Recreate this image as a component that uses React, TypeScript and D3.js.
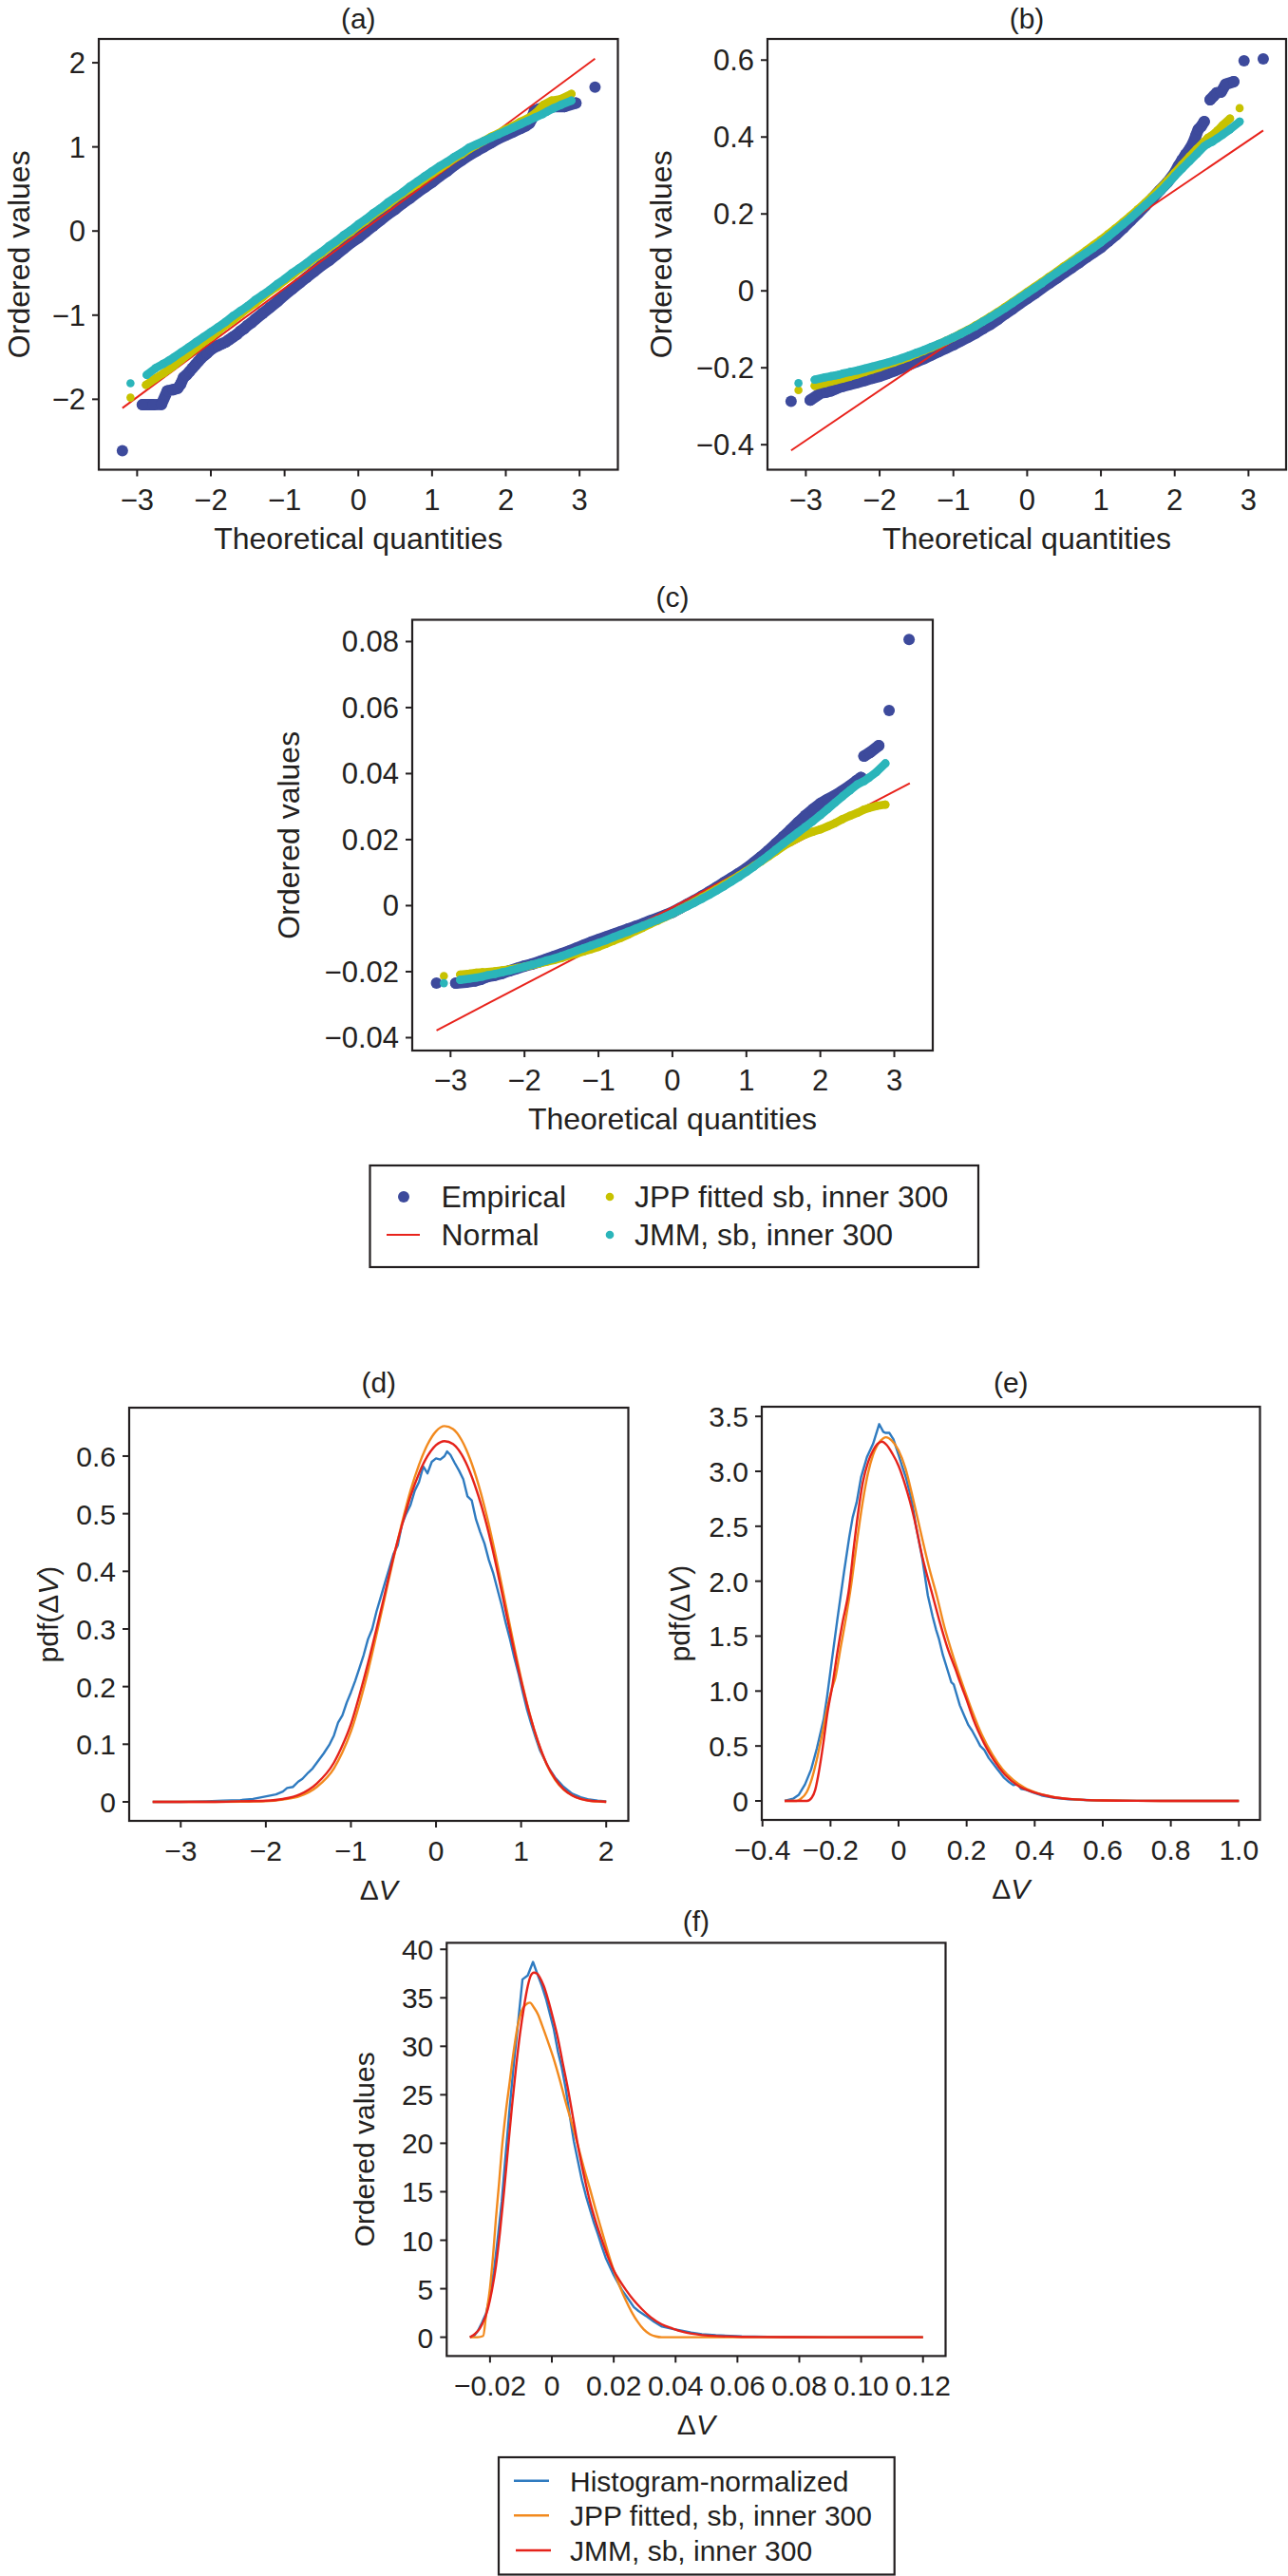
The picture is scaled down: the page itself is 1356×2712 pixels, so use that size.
import React from 'react';
import * as d3 from 'd3';

const FONT = '"Liberation Sans", Arial, Helvetica, sans-serif';
const INK = '#231f20';

const C_EMP = '#3d4a9c';
const C_JPP = '#c7c200';
const C_JMM = '#2bb5ba';
const C_NORM = '#e8231c';
const C_HIST = '#2f7bc0';
const C_JPPL = '#f28a1e';
const C_JMML = '#e5231b';

// ---------- Panel (a) ----------
const normalA: number[][] = [[-3.2, -2.105], [3.21, 2.048]];
const empiricalA: number[][] = [
  [-3.2, -2.61], [-2.93, -2.065], [-2.78, -2.065], [-2.67, -2.06], [-2.59, -1.9], [-2.51, -1.885], [-2.45, -1.87],
  [-2.41, -1.82], [-2.37, -1.74], [-2.33, -1.71], [-2.29, -1.67], [-2.25, -1.63], [-2.21, -1.59], [-2.17, -1.55],
  [-2.13, -1.51], [-2.09, -1.48], [-2.05, -1.45], [-2.0, -1.41], [-1.95, -1.38], [-1.9, -1.36], [-1.85, -1.34],
  [-1.8, -1.32], [-1.75, -1.29], [-1.7, -1.26], [-1.65, -1.23], [-1.6, -1.19], [-1.55, -1.16], [-1.5, -1.12],
  [-1.45, -1.09], [-1.4, -1.05], [-1.3, -0.98], [-1.2, -0.91], [-1.1, -0.84], [-1.0, -0.76], [-0.9, -0.69],
  [-0.8, -0.62], [-0.7, -0.55], [-0.6, -0.48], [-0.5, -0.41], [-0.4, -0.35], [-0.3, -0.28], [-0.2, -0.21],
  [-0.1, -0.14], [0, -0.08], [0.1, -0.01], [0.2, 0.06], [0.3, 0.13], [0.4, 0.2], [0.5, 0.26], [0.6, 0.33],
  [0.7, 0.39], [0.8, 0.46], [0.9, 0.52], [1.0, 0.58], [1.1, 0.65], [1.2, 0.71], [1.3, 0.78], [1.4, 0.84],
  [1.5, 0.9], [1.6, 0.95], [1.7, 1.0], [1.8, 1.05], [1.9, 1.1], [2.0, 1.14], [2.1, 1.18], [2.2, 1.22],
  [2.27, 1.25], [2.32, 1.28], [2.35, 1.33], [2.37, 1.38], [2.39, 1.43], [2.45, 1.45], [2.52, 1.46],
  [2.65, 1.48], [2.8, 1.48], [2.95, 1.52], [3.21, 1.71],
];
const jppA: number[][] = [
  [-3.09, -1.98], [-2.88, -1.83], [-2.75, -1.75], [-2.64, -1.69], [-2.57, -1.645], [-2.5, -1.6], [-2.4, -1.53],
  [-2.3, -1.46], [-2.2, -1.39], [-2.1, -1.32], [-2.0, -1.26], [-1.9, -1.19], [-1.8, -1.12], [-1.7, -1.06],
  [-1.6, -0.99], [-1.5, -0.92], [-1.4, -0.86], [-1.3, -0.79], [-1.2, -0.72], [-1.1, -0.66], [-1.0, -0.59],
  [-0.9, -0.53], [-0.8, -0.46], [-0.7, -0.4], [-0.6, -0.33], [-0.5, -0.27], [-0.4, -0.2], [-0.3, -0.14],
  [-0.2, -0.07], [-0.1, -0.01], [0, 0.06], [0.1, 0.12], [0.2, 0.19], [0.3, 0.25], [0.4, 0.31], [0.5, 0.38],
  [0.6, 0.44], [0.7, 0.5], [0.8, 0.56], [0.9, 0.62], [1.0, 0.68], [1.1, 0.74], [1.2, 0.8], [1.3, 0.86],
  [1.4, 0.91], [1.5, 0.97], [1.6, 1.02], [1.7, 1.07], [1.8, 1.12], [1.9, 1.16], [2.0, 1.21], [2.1, 1.25],
  [2.2, 1.3], [2.3, 1.34], [2.4, 1.4], [2.45, 1.44], [2.51, 1.5], [2.62, 1.55], [2.75, 1.57], [2.89, 1.63],
];
const jmmA: number[][] = [
  [-3.09, -1.81], [-2.87, -1.71], [-2.75, -1.63], [-2.65, -1.58], [-2.57, -1.54], [-2.5, -1.5], [-2.4, -1.44],
  [-2.3, -1.38], [-2.2, -1.32], [-2.1, -1.26], [-2.0, -1.2], [-1.9, -1.14], [-1.8, -1.08], [-1.7, -1.01],
  [-1.6, -0.95], [-1.5, -0.89], [-1.4, -0.82], [-1.3, -0.76], [-1.2, -0.7], [-1.1, -0.63], [-1.0, -0.57],
  [-0.9, -0.5], [-0.8, -0.44], [-0.7, -0.38], [-0.6, -0.31], [-0.5, -0.25], [-0.4, -0.18], [-0.3, -0.12],
  [-0.2, -0.05], [-0.1, 0.01], [0, 0.08], [0.1, 0.14], [0.2, 0.21], [0.3, 0.27], [0.4, 0.34], [0.5, 0.4],
  [0.6, 0.46], [0.7, 0.53], [0.8, 0.59], [0.9, 0.65], [1.0, 0.71], [1.1, 0.77], [1.2, 0.82], [1.3, 0.88],
  [1.4, 0.93], [1.5, 0.99], [1.6, 1.03], [1.7, 1.07], [1.8, 1.11], [1.9, 1.15], [2.0, 1.19], [2.1, 1.23],
  [2.2, 1.27], [2.3, 1.31], [2.4, 1.35], [2.5, 1.39], [2.56, 1.42], [2.65, 1.46], [2.75, 1.5], [2.89, 1.55],
];

// ---------- Panel (b) ----------
const normalB: number[][] = [[-3.2, -0.415], [3.2, 0.417]];
const empiricalB: number[][] = [
  [-3.2, -0.287], [-2.94, -0.284], [-2.79, -0.265], [-2.72, -0.263], [-2.66, -0.26], [-2.6, -0.255], [-2.54, -0.25],
  [-2.5, -0.248], [-2.4, -0.243], [-2.3, -0.238], [-2.2, -0.233], [-2.1, -0.227], [-2.0, -0.222], [-1.9, -0.215],
  [-1.8, -0.208], [-1.7, -0.2], [-1.6, -0.192], [-1.5, -0.184], [-1.4, -0.176], [-1.3, -0.167], [-1.2, -0.158],
  [-1.1, -0.149], [-1.0, -0.14], [-0.9, -0.13], [-0.8, -0.12], [-0.7, -0.11], [-0.6, -0.098], [-0.5, -0.087],
  [-0.4, -0.074], [-0.3, -0.06], [-0.2, -0.047], [-0.1, -0.033], [0, -0.02], [0.1, -0.007], [0.2, 0.007],
  [0.3, 0.02], [0.4, 0.033], [0.5, 0.047], [0.6, 0.06], [0.7, 0.073], [0.8, 0.087], [0.9, 0.1], [1.0, 0.113],
  [1.1, 0.129], [1.2, 0.145], [1.3, 0.163], [1.4, 0.182], [1.5, 0.201], [1.6, 0.221], [1.7, 0.241], [1.8, 0.262],
  [1.9, 0.282], [2.0, 0.307], [2.05, 0.325], [2.1, 0.34], [2.15, 0.355], [2.2, 0.368], [2.25, 0.385],
  [2.29, 0.405], [2.32, 0.42], [2.36, 0.428], [2.4, 0.44], [2.48, 0.497], [2.53, 0.507], [2.57, 0.515],
  [2.63, 0.517], [2.69, 0.537], [2.8, 0.544], [2.94, 0.598], [3.2, 0.603],
];
const jppB: number[][] = [
  [-3.1, -0.258], [-2.88, -0.247], [-2.74, -0.24], [-2.66, -0.236], [-2.6, -0.233], [-2.5, -0.228], [-2.4, -0.223],
  [-2.3, -0.217], [-2.2, -0.211], [-2.1, -0.205], [-2.0, -0.199], [-1.9, -0.192], [-1.8, -0.186], [-1.7, -0.179],
  [-1.6, -0.172], [-1.5, -0.164], [-1.4, -0.156], [-1.3, -0.148], [-1.2, -0.139], [-1.1, -0.13], [-1.0, -0.121],
  [-0.9, -0.111], [-0.8, -0.101], [-0.7, -0.09], [-0.6, -0.079], [-0.5, -0.067], [-0.4, -0.055], [-0.3, -0.042],
  [-0.2, -0.029], [-0.1, -0.016], [0, -0.003], [0.1, 0.01], [0.2, 0.023], [0.3, 0.037], [0.4, 0.05], [0.5, 0.064],
  [0.6, 0.077], [0.7, 0.091], [0.8, 0.105], [0.9, 0.119], [1.0, 0.133], [1.1, 0.148], [1.2, 0.163], [1.3, 0.179],
  [1.4, 0.195], [1.5, 0.212], [1.6, 0.229], [1.7, 0.247], [1.8, 0.266], [1.9, 0.286], [2.0, 0.307], [2.1, 0.328],
  [2.2, 0.349], [2.3, 0.369], [2.4, 0.388], [2.45, 0.398], [2.51, 0.405], [2.58, 0.417], [2.65, 0.431],
  [2.75, 0.448], [2.88, 0.475],
];
const jmmB: number[][] = [
  [-3.1, -0.24], [-2.88, -0.231], [-2.74, -0.225], [-2.66, -0.222], [-2.6, -0.22], [-2.55, -0.218], [-2.5, -0.215],
  [-2.4, -0.211], [-2.3, -0.207], [-2.2, -0.202], [-2.1, -0.197], [-2.0, -0.192], [-1.9, -0.187], [-1.8, -0.181],
  [-1.7, -0.175], [-1.6, -0.168], [-1.5, -0.161], [-1.4, -0.154], [-1.3, -0.146], [-1.2, -0.138], [-1.1, -0.13],
  [-1.0, -0.121], [-0.9, -0.112], [-0.8, -0.102], [-0.7, -0.092], [-0.6, -0.08], [-0.5, -0.069], [-0.4, -0.057],
  [-0.3, -0.045], [-0.2, -0.032], [-0.1, -0.019], [0, -0.006], [0.1, 0.007], [0.2, 0.02], [0.3, 0.034],
  [0.4, 0.047], [0.5, 0.06], [0.6, 0.073], [0.7, 0.086], [0.8, 0.099], [0.9, 0.112], [1.0, 0.126], [1.1, 0.141],
  [1.2, 0.157], [1.3, 0.173], [1.4, 0.189], [1.5, 0.206], [1.6, 0.223], [1.7, 0.24], [1.8, 0.257], [1.9, 0.277],
  [2.0, 0.298], [2.1, 0.318], [2.2, 0.337], [2.3, 0.356], [2.4, 0.376], [2.45, 0.382], [2.51, 0.388],
  [2.58, 0.397], [2.65, 0.406], [2.75, 0.42], [2.88, 0.44],
];

// ---------- Panel (c) ----------
const normalC: number[][] = [[-3.19, -0.0378], [3.21, 0.0371]];
const empiricalC: number[][] = [
  [-3.19, -0.0235], [-2.93, -0.0235], [-2.79, -0.0232], [-2.67, -0.0228], [-2.59, -0.0223], [-2.5, -0.0215],
  [-2.4, -0.0211], [-2.3, -0.0205], [-2.2, -0.0197], [-2.1, -0.019], [-2.0, -0.0183], [-1.9, -0.0177],
  [-1.8, -0.017], [-1.7, -0.0162], [-1.6, -0.0154], [-1.5, -0.0146], [-1.4, -0.0138], [-1.3, -0.0129],
  [-1.2, -0.012], [-1.1, -0.0111], [-1.0, -0.0103], [-0.9, -0.0095], [-0.8, -0.0087], [-0.7, -0.0079],
  [-0.6, -0.0071], [-0.5, -0.0063], [-0.4, -0.0055], [-0.3, -0.0046], [-0.2, -0.0038], [-0.1, -0.0029],
  [0, -0.002], [0.1, -0.0008], [0.2, 0.0004], [0.3, 0.0016], [0.4, 0.0029], [0.5, 0.0042], [0.6, 0.0056],
  [0.7, 0.007], [0.8, 0.0084], [0.9, 0.0098], [1.0, 0.0113], [1.1, 0.013], [1.2, 0.0148], [1.3, 0.0167],
  [1.4, 0.0188], [1.5, 0.0209], [1.6, 0.023], [1.7, 0.0252], [1.8, 0.0273], [1.9, 0.0292], [2.0, 0.0309],
  [2.1, 0.0322], [2.2, 0.0334], [2.3, 0.0348], [2.4, 0.0363], [2.5, 0.038], [2.55, 0.0388], [2.59, 0.0453],
  [2.67, 0.0464], [2.79, 0.0485], [2.93, 0.0591], [3.2, 0.0806],
];
const jppC: number[][] = [
  [-3.09, -0.0213], [-2.87, -0.0209], [-2.74, -0.0206], [-2.65, -0.0203], [-2.57, -0.0202], [-2.5, -0.0201],
  [-2.4, -0.0199], [-2.3, -0.0196], [-2.2, -0.0193], [-2.1, -0.0189], [-2.0, -0.0185], [-1.9, -0.018],
  [-1.8, -0.0175], [-1.7, -0.017], [-1.6, -0.0165], [-1.5, -0.0159], [-1.4, -0.0152], [-1.3, -0.0146],
  [-1.2, -0.0139], [-1.1, -0.0132], [-1.0, -0.0125], [-0.9, -0.0116], [-0.8, -0.0107], [-0.7, -0.0098],
  [-0.6, -0.0088], [-0.5, -0.0077], [-0.4, -0.0067], [-0.3, -0.0056], [-0.2, -0.0046], [-0.1, -0.0035],
  [0, -0.0024], [0.1, -0.0012], [0.2, 0.0], [0.3, 0.0012], [0.4, 0.0025], [0.5, 0.0037], [0.6, 0.005],
  [0.7, 0.0064], [0.8, 0.0077], [0.9, 0.0091], [1.0, 0.0105], [1.1, 0.012], [1.2, 0.0134], [1.3, 0.0149],
  [1.4, 0.0164], [1.5, 0.018], [1.6, 0.0193], [1.7, 0.0205], [1.8, 0.0216], [1.9, 0.0224], [2.0, 0.0231],
  [2.1, 0.024], [2.2, 0.025], [2.3, 0.0262], [2.4, 0.0272], [2.5, 0.0281], [2.59, 0.0291], [2.66, 0.0296],
  [2.76, 0.0302], [2.88, 0.0306],
];
const jmmC: number[][] = [
  [-3.09, -0.0235], [-2.87, -0.0225], [-2.74, -0.0221], [-2.65, -0.0218], [-2.57, -0.0215], [-2.5, -0.0211],
  [-2.4, -0.0207], [-2.3, -0.0202], [-2.2, -0.0197], [-2.1, -0.0191], [-2.0, -0.0185], [-1.9, -0.0179],
  [-1.8, -0.0173], [-1.7, -0.0166], [-1.6, -0.016], [-1.5, -0.0153], [-1.4, -0.0145], [-1.3, -0.0137],
  [-1.2, -0.0129], [-1.1, -0.0121], [-1.0, -0.0113], [-0.9, -0.0105], [-0.8, -0.0096], [-0.7, -0.0087],
  [-0.6, -0.0079], [-0.5, -0.007], [-0.4, -0.0061], [-0.3, -0.0052], [-0.2, -0.0043], [-0.1, -0.0034],
  [0, -0.0024], [0.1, -0.0013], [0.2, -0.0002], [0.3, 0.0009], [0.4, 0.0021], [0.5, 0.0033], [0.6, 0.0046],
  [0.7, 0.0059], [0.8, 0.0073], [0.9, 0.0087], [1.0, 0.0102], [1.1, 0.0118], [1.2, 0.0135], [1.3, 0.0152],
  [1.4, 0.017], [1.5, 0.0188], [1.6, 0.0205], [1.7, 0.0222], [1.8, 0.0239], [1.9, 0.0256], [2.0, 0.0274],
  [2.1, 0.0293], [2.2, 0.0312], [2.3, 0.0331], [2.4, 0.0349], [2.5, 0.0367], [2.59, 0.0377], [2.66, 0.0388],
  [2.76, 0.0405], [2.88, 0.0431],
];

// ---------- Panel (d) ----------
const histD: number[][] = [
  [-3.33, 0], [-3.0, 0], [-2.7, 0.001], [-2.5, 0.002], [-2.3, 0.003], [-2.15, 0.005], [-2.05, 0.008], [-1.95, 0.011],
  [-1.88, 0.013], [-1.8, 0.018], [-1.75, 0.024], [-1.68, 0.026], [-1.62, 0.035], [-1.57, 0.04], [-1.5, 0.051],
  [-1.45, 0.058], [-1.38, 0.072], [-1.32, 0.084], [-1.25, 0.1], [-1.2, 0.115], [-1.15, 0.138], [-1.1, 0.15],
  [-1.05, 0.172], [-1.0, 0.19], [-0.95, 0.21], [-0.9, 0.232], [-0.85, 0.255], [-0.8, 0.282], [-0.75, 0.3],
  [-0.7, 0.33], [-0.65, 0.355], [-0.6, 0.38], [-0.55, 0.405], [-0.5, 0.43], [-0.45, 0.445], [-0.4, 0.482],
  [-0.35, 0.5], [-0.3, 0.515], [-0.25, 0.54], [-0.2, 0.555], [-0.15, 0.582], [-0.1, 0.57], [-0.05, 0.59],
  [0.0, 0.596], [0.05, 0.594], [0.1, 0.6], [0.13, 0.608], [0.17, 0.602], [0.22, 0.588], [0.27, 0.575],
  [0.32, 0.56], [0.37, 0.53], [0.42, 0.523], [0.47, 0.49], [0.52, 0.468], [0.57, 0.448], [0.62, 0.42],
  [0.67, 0.398], [0.72, 0.37], [0.77, 0.342], [0.82, 0.31], [0.87, 0.282], [0.92, 0.25], [0.97, 0.222],
  [1.02, 0.19], [1.07, 0.16], [1.12, 0.135], [1.17, 0.112], [1.22, 0.09], [1.27, 0.075], [1.32, 0.06],
  [1.4, 0.042], [1.5, 0.026], [1.6, 0.014], [1.7, 0.008], [1.8, 0.004], [1.9, 0.002], [2.0, 0.001],
];
const jppD: number[][] = [
  [-3.33, 0], [-2.6, 0], [-2.2, 0.0005], [-2.0, 0.001], [-1.8, 0.004], [-1.6, 0.01], [-1.4, 0.026], [-1.2, 0.058],
  [-1.1, 0.086], [-1.0, 0.122], [-0.9, 0.17], [-0.8, 0.226], [-0.7, 0.29], [-0.6, 0.356], [-0.5, 0.422],
  [-0.4, 0.484], [-0.3, 0.54], [-0.2, 0.585], [-0.1, 0.62], [0, 0.643], [0.1, 0.652], [0.2, 0.647], [0.3, 0.628],
  [0.4, 0.595], [0.5, 0.55], [0.6, 0.494], [0.7, 0.428], [0.8, 0.356], [0.9, 0.283], [1.0, 0.214], [1.1, 0.153],
  [1.2, 0.103], [1.3, 0.065], [1.4, 0.038], [1.5, 0.021], [1.6, 0.011], [1.7, 0.005], [1.8, 0.002], [2.0, 0.0],
];
const jmmD: number[][] = [
  [-3.33, 0], [-2.6, 0], [-2.3, 0.001], [-2.0, 0.002], [-1.8, 0.005], [-1.6, 0.013], [-1.4, 0.032], [-1.2, 0.068],
  [-1.1, 0.098], [-1.0, 0.135], [-0.9, 0.185], [-0.8, 0.24], [-0.7, 0.3], [-0.6, 0.362], [-0.5, 0.425],
  [-0.4, 0.48], [-0.3, 0.53], [-0.2, 0.57], [-0.1, 0.6], [0, 0.619], [0.1, 0.626], [0.2, 0.621], [0.3, 0.603],
  [0.4, 0.572], [0.5, 0.53], [0.6, 0.478], [0.7, 0.415], [0.8, 0.345], [0.9, 0.275], [1.0, 0.21], [1.1, 0.152],
  [1.2, 0.104], [1.3, 0.066], [1.4, 0.04], [1.5, 0.022], [1.6, 0.011], [1.7, 0.005], [1.8, 0.002], [1.9, 0.001],
  [2.0, 0.0],
];

// ---------- Panel (e) ----------
const histE: number[][] = [
  [-0.335, 0], [-0.31, 0.02], [-0.293, 0.057], [-0.275, 0.15], [-0.257, 0.286], [-0.24, 0.48], [-0.22, 0.745],
  [-0.21, 0.95], [-0.196, 1.28], [-0.18, 1.65], [-0.16, 2.09], [-0.145, 2.4], [-0.135, 2.58], [-0.123, 2.72],
  [-0.11, 2.95], [-0.093, 3.13], [-0.075, 3.25], [-0.057, 3.43], [-0.045, 3.36], [-0.039, 3.35], [-0.027, 3.35],
  [-0.015, 3.29], [0.0, 3.15], [0.01, 3.05], [0.022, 2.94], [0.039, 2.73], [0.05, 2.52], [0.06, 2.36],
  [0.07, 2.2], [0.086, 1.87], [0.1, 1.68], [0.11, 1.56], [0.119, 1.47], [0.13, 1.33], [0.145, 1.18],
  [0.155, 1.08], [0.162, 1.06], [0.18, 0.87], [0.195, 0.76], [0.205, 0.69], [0.216, 0.64], [0.23, 0.56],
  [0.24, 0.5], [0.252, 0.463], [0.265, 0.39], [0.28, 0.33], [0.29, 0.29], [0.3, 0.25], [0.31, 0.21],
  [0.325, 0.17], [0.337, 0.145], [0.35, 0.15], [0.36, 0.11], [0.375, 0.1], [0.397, 0.074], [0.42, 0.05],
  [0.458, 0.028], [0.5, 0.015], [0.58, 0.004], [0.7, 0.001], [1.0, 0],
];
const jppE: number[][] = [
  [-0.335, 0], [-0.3, 0], [-0.287, 0.02], [-0.27, 0.08], [-0.255, 0.2], [-0.24, 0.38], [-0.225, 0.6],
  [-0.21, 0.84], [-0.196, 1.02], [-0.186, 1.12], [-0.17, 1.4], [-0.155, 1.66], [-0.14, 1.95], [-0.125, 2.3],
  [-0.105, 2.73], [-0.09, 2.98], [-0.075, 3.15], [-0.06, 3.25], [-0.045, 3.3], [-0.037, 3.31], [-0.02, 3.28],
  [0.0, 3.19], [0.02, 3.03], [0.044, 2.73], [0.07, 2.38], [0.09, 2.12], [0.112, 1.87], [0.135, 1.58],
  [0.16, 1.32], [0.188, 1.06], [0.216, 0.82], [0.245, 0.6], [0.276, 0.42], [0.305, 0.29], [0.337, 0.19],
  [0.37, 0.12], [0.409, 0.07], [0.46, 0.034], [0.518, 0.014], [0.6, 0.004], [0.7, 0.001], [0.85, 0], [1.0, 0],
];
const jmmE: number[][] = [
  [-0.335, 0], [-0.3, 0], [-0.269, 0], [-0.255, 0.03], [-0.245, 0.1], [-0.235, 0.25], [-0.22, 0.55],
  [-0.21, 0.78], [-0.194, 1.06], [-0.18, 1.35], [-0.165, 1.62], [-0.147, 1.9], [-0.13, 2.35], [-0.119, 2.62],
  [-0.105, 2.9], [-0.09, 3.08], [-0.075, 3.19], [-0.062, 3.25], [-0.049, 3.27], [-0.035, 3.24], [-0.018, 3.16],
  [0.0, 3.05], [0.02, 2.87], [0.033, 2.73], [0.046, 2.57], [0.07, 2.22], [0.1, 1.87], [0.12, 1.64],
  [0.143, 1.4], [0.167, 1.2], [0.183, 1.06], [0.2, 0.92], [0.22, 0.74], [0.252, 0.52], [0.28, 0.37],
  [0.312, 0.24], [0.35, 0.14], [0.397, 0.078], [0.45, 0.037], [0.518, 0.014], [0.6, 0.004], [0.7, 0.001],
  [0.85, 0], [1.0, 0],
];

// ---------- Panel (f) ----------
const histF: number[][] = [
  [-0.0265, 0], [-0.025, 0.2], [-0.0239, 0.67], [-0.0226, 1.5], [-0.0213, 2.44], [-0.02, 4.3], [-0.0187, 6.9],
  [-0.0175, 10.2], [-0.0162, 14], [-0.0149, 19.0], [-0.0136, 23.8], [-0.0123, 28.2], [-0.011, 32.2],
  [-0.0095, 36.9], [-0.0078, 37.3], [-0.0061, 38.7], [-0.0045, 37.3], [-0.0032, 36.2], [-0.0019, 34.9],
  [-0.0006, 33.3], [0.0006, 31.8], [0.002, 29.4], [0.0032, 27.8], [0.0045, 25.6], [0.0058, 22.8], [0.0071, 20.2],
  [0.0084, 18.2], [0.0097, 16.2], [0.011, 14.6], [0.0123, 13.2], [0.0136, 11.8], [0.0149, 10.6], [0.0162, 9.3],
  [0.0174, 8.2], [0.02, 6.4], [0.0226, 4.9], [0.025, 3.8], [0.0265, 3.1], [0.028, 2.7], [0.0304, 2.2],
  [0.033, 1.6], [0.0356, 1.1], [0.039, 0.85], [0.042, 0.67], [0.045, 0.47], [0.0485, 0.31], [0.053, 0.2],
  [0.0614, 0.09], [0.074, 0.02], [0.09, 0], [0.12, 0],
];
const jppF: number[][] = [
  [-0.0265, 0], [-0.024, 0], [-0.0222, 0.13], [-0.0213, 2.2], [-0.02, 5.1], [-0.019, 8.5], [-0.0181, 12.2],
  [-0.0171, 15.8], [-0.0162, 19.3], [-0.0149, 23.2], [-0.0136, 26.4], [-0.0123, 29.6], [-0.011, 32.2],
  [-0.0097, 33.7], [-0.0084, 34.3], [-0.0071, 34.5], [-0.0058, 34.0], [-0.0045, 33.3], [-0.0032, 32.2],
  [-0.0013, 30.5], [0.0006, 28.7], [0.0026, 26.5], [0.0045, 24.2], [0.0065, 22.0], [0.0084, 19.8],
  [0.0103, 17.5], [0.0123, 15.3], [0.0142, 13.1], [0.0162, 10.9], [0.0181, 8.8], [0.02, 6.9], [0.022, 5.2],
  [0.0239, 3.8], [0.0258, 2.6], [0.0278, 1.56], [0.0297, 0.8], [0.0317, 0.31], [0.0336, 0.08], [0.0355, 0],
  [0.06, 0], [0.12, 0],
];
const jmmF: number[][] = [
  [-0.0265, 0], [-0.025, 0.3], [-0.0233, 0.9], [-0.0207, 2.9], [-0.0194, 4.8], [-0.0181, 7.3], [-0.0168, 10.8],
  [-0.0155, 14.9], [-0.0142, 19.4], [-0.0129, 23.8], [-0.0116, 27.8], [-0.0103, 31.3], [-0.009, 34.1],
  [-0.0078, 36.2], [-0.0068, 37.3], [-0.0058, 37.6], [-0.0048, 37.5], [-0.0039, 37.1], [-0.0026, 36.2],
  [-0.0013, 34.9], [0.0003, 33.0], [0.0019, 30.9], [0.0035, 28.3], [0.0052, 25.6], [0.0068, 22.7],
  [0.0084, 19.8], [0.0103, 16.8], [0.0123, 14.0], [0.0142, 11.9], [0.0162, 10.0], [0.018, 8.4], [0.02, 6.9],
  [0.022, 5.8], [0.0239, 4.9], [0.0265, 3.8], [0.0291, 2.9], [0.032, 2.05], [0.0355, 1.33], [0.039, 0.9],
  [0.042, 0.58], [0.0485, 0.22], [0.055, 0.1], [0.0614, 0.04], [0.075, 0.01], [0.09, 0], [0.12, 0],
];

// ---------- Ticks ----------
const qqXTicks = [-3, -2, -1, 0, 1, 2, 3];
const qqXTickLabels = ['−3', '−2', '−1', '0', '1', '2', '3'];
const aYTicks = [-2, -1, 0, 1, 2];
const aYTickLabels = ['−2', '−1', '0', '1', '2'];
const bYTicks = [-0.4, -0.2, 0, 0.2, 0.4, 0.6];
const bYTickLabels = ['−0.4', '−0.2', '0', '0.2', '0.4', '0.6'];
const cYTicks = [-0.04, -0.02, 0, 0.02, 0.04, 0.06, 0.08];
const cYTickLabels = ['−0.04', '−0.02', '0', '0.02', '0.04', '0.06', '0.08'];
const dXTicks = [-3, -2, -1, 0, 1, 2];
const dXTickLabels = ['−3', '−2', '−1', '0', '1', '2'];
const dYTicks = [0, 0.1, 0.2, 0.3, 0.4, 0.5, 0.6];
const dYTickLabels = ['0', '0.1', '0.2', '0.3', '0.4', '0.5', '0.6'];
const eXTicks = [-0.4, -0.2, 0, 0.2, 0.4, 0.6, 0.8, 1.0];
const eXTickLabels = ['−0.4', '−0.2', '0', '0.2', '0.4', '0.6', '0.8', '1.0'];
const eYTicks = [0, 0.5, 1.0, 1.5, 2.0, 2.5, 3.0, 3.5];
const eYTickLabels = ['0', '0.5', '1.0', '1.5', '2.0', '2.5', '3.0', '3.5'];
const fXTicks = [-0.02, 0, 0.02, 0.04, 0.06, 0.08, 0.1, 0.12];
const fXTickLabels = ['−0.02', '0', '0.02', '0.04', '0.06', '0.08', '0.10', '0.12'];
const fYTicks = [0, 5, 10, 15, 20, 25, 30, 35, 40];
const fYTickLabels = ['0', '5', '10', '15', '20', '25', '30', '35', '40'];

const qqLegend = ['Empirical', 'Normal', 'JPP fitted sb, inner 300', 'JMM, sb, inner 300'];
const pdfLegend = ['Histogram-normalized', 'JPP fitted, sb, inner 300', 'JMM, sb, inner 300'];

type Box = { left: number; top: number; width: number; height: number };

function Frame(props: any) {
  const { box, x, y, xTicks, xLabels, yTicks, yLabels, tickFont, title, titleY, xLabel, yLabel, yLabelX, labelFont, children } = props;
  const bottom = box.top + box.height;
  const cx = box.left + box.width / 2;
  const cy = box.top + box.height / 2;
  return (
    <g>
      {children}
      <rect x={box.left} y={box.top} width={box.width} height={box.height} fill="none" stroke={INK} strokeWidth={2.2} />
      {xTicks.map((t: number, i: number) => (
        <g key={'x' + i}>
          <line x1={x(t)} x2={x(t)} y1={bottom} y2={bottom + 7} stroke={INK} strokeWidth={2} />
          <text x={x(t)} y={bottom + 42} textAnchor="middle" fontSize={tickFont} fill={INK}>{xLabels[i]}</text>
        </g>
      ))}
      {yTicks.map((t: number, i: number) => (
        <g key={'y' + i}>
          <line x1={box.left - 7} x2={box.left} y1={y(t)} y2={y(t)} stroke={INK} strokeWidth={2} />
          <text x={box.left - 14} y={y(t) + 11} textAnchor="end" fontSize={tickFont} fill={INK}>{yLabels[i]}</text>
        </g>
      ))}
      <text x={cx} y={titleY} textAnchor="middle" fontSize={30} fill={INK}>{title}</text>
      <text x={cx} y={bottom + 83} textAnchor="middle" fontSize={labelFont} fill={INK}>{xLabel}</text>
      <text transform={`translate(${yLabelX},${cy}) rotate(-90)`} textAnchor="middle" dominantBaseline="central" fontSize={labelFont} fill={INK}>{yLabel}</text>
    </g>
  );
}

function Dots({ data, x, y, r, color }: any) {
  const pts = data.map((d: number[]) => [x(d[0]), y(d[1])]);
  let segs = '';
  for (let i = 1; i < pts.length; i++) {
    const dx = pts[i][0] - pts[i - 1][0];
    const dy = pts[i][1] - pts[i - 1][1];
    if (Math.hypot(dx, dy) < 2 * r + 5) segs += `M${pts[i - 1][0]},${pts[i - 1][1]}L${pts[i][0]},${pts[i][1]}`;
  }
  return (
    <g>
      <path d={segs} stroke={color} strokeWidth={2 * r} strokeLinecap="round" fill="none" />
      {pts.map((p: number[], i: number) => <circle key={i} cx={p[0]} cy={p[1]} r={r} fill={color} />)}
    </g>
  );
}

function QQPanel(props: any) {
  const { box, xDomain, yDomain, emp, jpp, jmm, normal } = props;
  const x = d3.scaleLinear().domain(xDomain).range([box.left, box.left + box.width]);
  const y = d3.scaleLinear().domain(yDomain).range([box.top + box.height, box.top]);
  const line = d3.line<number[]>().x(d => x(d[0])).y(d => y(d[1]));
  return (
    <Frame {...props} x={x} y={y} xTicks={qqXTicks} xLabels={qqXTickLabels} tickFont={31} labelFont={32}
      xLabel="Theoretical quantities" yLabel="Ordered values">
      <Dots data={emp} x={x} y={y} r={6} color={C_EMP} />
      <path d={line(normal) || ''} stroke={C_NORM} strokeWidth={2} fill="none" />
      <Dots data={jpp} x={x} y={y} r={4.3} color={C_JPP} />
      <Dots data={jmm} x={x} y={y} r={4.3} color={C_JMM} />
    </Frame>
  );
}

function PdfPanel(props: any) {
  const { box, xDomain, yDomain, hist, jpp, jmm } = props;
  const x = d3.scaleLinear().domain(xDomain).range([box.left, box.left + box.width]);
  const y = d3.scaleLinear().domain(yDomain).range([box.top + box.height, box.top]);
  const raw = d3.line<number[]>().x(d => x(d[0])).y(d => y(d[1]));
  const smooth = d3.line<number[]>().x(d => x(d[0])).y(d => y(d[1])).curve(d3.curveMonotoneX);
  return (
    <Frame {...props} x={x} y={y} tickFont={30} labelFont={30}>
      <path d={raw(hist) || ''} stroke={C_HIST} strokeWidth={2.4} fill="none" strokeLinejoin="round" />
      <path d={smooth(jpp) || ''} stroke={C_JPPL} strokeWidth={2.4} fill="none" />
      <path d={smooth(jmm) || ''} stroke={C_JMML} strokeWidth={2.4} fill="none" />
    </Frame>
  );
}

const dV = (<><tspan>Δ</tspan><tspan fontStyle="italic">V</tspan></>);
const pdfLabel = (<><tspan>pdf(Δ</tspan><tspan fontStyle="italic">V</tspan><tspan>)</tspan></>);

export default function App() {
  const boxA: Box = { left: 104, top: 41, width: 546.5, height: 453.5 };
  const boxB: Box = { left: 808, top: 41, width: 546, height: 453.5 };
  const boxC: Box = { left: 434, top: 652.5, width: 548, height: 453.5 };
  const boxD: Box = { left: 136, top: 1482, width: 525.5, height: 435 };
  const boxE: Box = { left: 802, top: 1481, width: 524.5, height: 435 };
  const boxF: Box = { left: 470.3, top: 2045.4, width: 525.2, height: 435 };

  const l1 = { left: 389.5, top: 1227, width: 640.5, height: 107 };
  const l2 = { left: 525, top: 2587, width: 416.7, height: 123.5 };
  const l2rows = [2611.7, 2648.3, 2685];

  return (
    <svg width={1356} height={2712} style={{ position: 'absolute', left: 0, top: 0, background: '#fff' }}
      fontFamily={FONT}>
      <rect x={0} y={0} width={1356} height={2712} fill="#fff" />
      <QQPanel box={boxA} xDomain={[-3.52, 3.52]} yDomain={[-2.837, 2.283]} emp={empiricalA} jpp={jppA} jmm={jmmA}
        normal={normalA} yTicks={aYTicks} yLabels={aYTickLabels} title="(a)" titleY={30} yLabelX={19.5} />
      <QQPanel box={boxB} xDomain={[-3.52, 3.51]} yDomain={[-0.465, 0.655]} emp={empiricalB} jpp={jppB} jmm={jmmB}
        normal={normalB} yTicks={bYTicks} yLabels={bYTickLabels} title="(b)" titleY={30} yLabelX={695.5} />
      <QQPanel box={boxC} xDomain={[-3.518, 3.52]} yDomain={[-0.0439, 0.0866]} emp={empiricalC} jpp={jppC} jmm={jmmC}
        normal={normalC} yTicks={cYTicks} yLabels={cYTickLabels} title="(c)" titleY={639} yLabelX={303.5} />

      <g>
        <rect x={l1.left} y={l1.top} width={l1.width} height={l1.height} fill="#fff" stroke={INK} strokeWidth={2.2} />
        <circle cx={425} cy={1260} r={6} fill={C_EMP} />
        <line x1={407} x2={442} y1={1300} y2={1300} stroke={C_NORM} strokeWidth={2} />
        <circle cx={642} cy={1260} r={4.3} fill={C_JPP} />
        <circle cx={642} cy={1300} r={4.3} fill={C_JMM} />
        <text x={464.5} y={1271} fontSize={32} fill={INK}>{qqLegend[0]}</text>
        <text x={464.5} y={1311} fontSize={32} fill={INK}>{qqLegend[1]}</text>
        <text x={668} y={1271} fontSize={32} fill={INK}>{qqLegend[2]}</text>
        <text x={668} y={1311} fontSize={32} fill={INK}>{qqLegend[3]}</text>
      </g>

      <PdfPanel box={boxD} xDomain={[-3.606, 2.26]} yDomain={[-0.033, 0.684]} hist={histD} jpp={jppD} jmm={jmmD}
        xTicks={dXTicks} xLabels={dXTickLabels} yTicks={dYTicks} yLabels={dYTickLabels} title="(d)" titleY={1466}
        xLabel={dV} yLabel={pdfLabel} yLabelX={50} />
      <PdfPanel box={boxE} xDomain={[-0.402, 1.062]} yDomain={[-0.173, 3.588]} hist={histE} jpp={jppE} jmm={jmmE}
        xTicks={eXTicks} xLabels={eXTickLabels} yTicks={eYTicks} yLabels={eYTickLabels} title="(e)" titleY={1466}
        xLabel={dV} yLabel={pdfLabel} yLabelX={715} />
      <PdfPanel box={boxF} xDomain={[-0.034, 0.1273]} yDomain={[-1.94, 40.67]} hist={histF} jpp={jppF} jmm={jmmF}
        xTicks={fXTicks} xLabels={fXTickLabels} yTicks={fYTicks} yLabels={fYTickLabels} title="(f)" titleY={2033}
        xLabel={dV} yLabel="Ordered values" yLabelX={383} />

      <g>
        <rect x={l2.left} y={l2.top} width={l2.width} height={l2.height} fill="#fff" stroke={INK} strokeWidth={2.2} />
        <line x1={541} x2={578} y1={l2rows[0]} y2={l2rows[0]} stroke={C_HIST} strokeWidth={2.4} />
        <line x1={541} x2={578} y1={l2rows[1]} y2={l2rows[1]} stroke={C_JPPL} strokeWidth={2.4} />
        <line x1={543} x2={580} y1={l2rows[2]} y2={l2rows[2]} stroke={C_JMML} strokeWidth={2.4} />
        {pdfLegend.map((t, i) => (
          <text key={i} x={600} y={l2rows[i] + 11} fontSize={30} fill={INK}>{t}</text>
        ))}
      </g>
    </svg>
  );
}
